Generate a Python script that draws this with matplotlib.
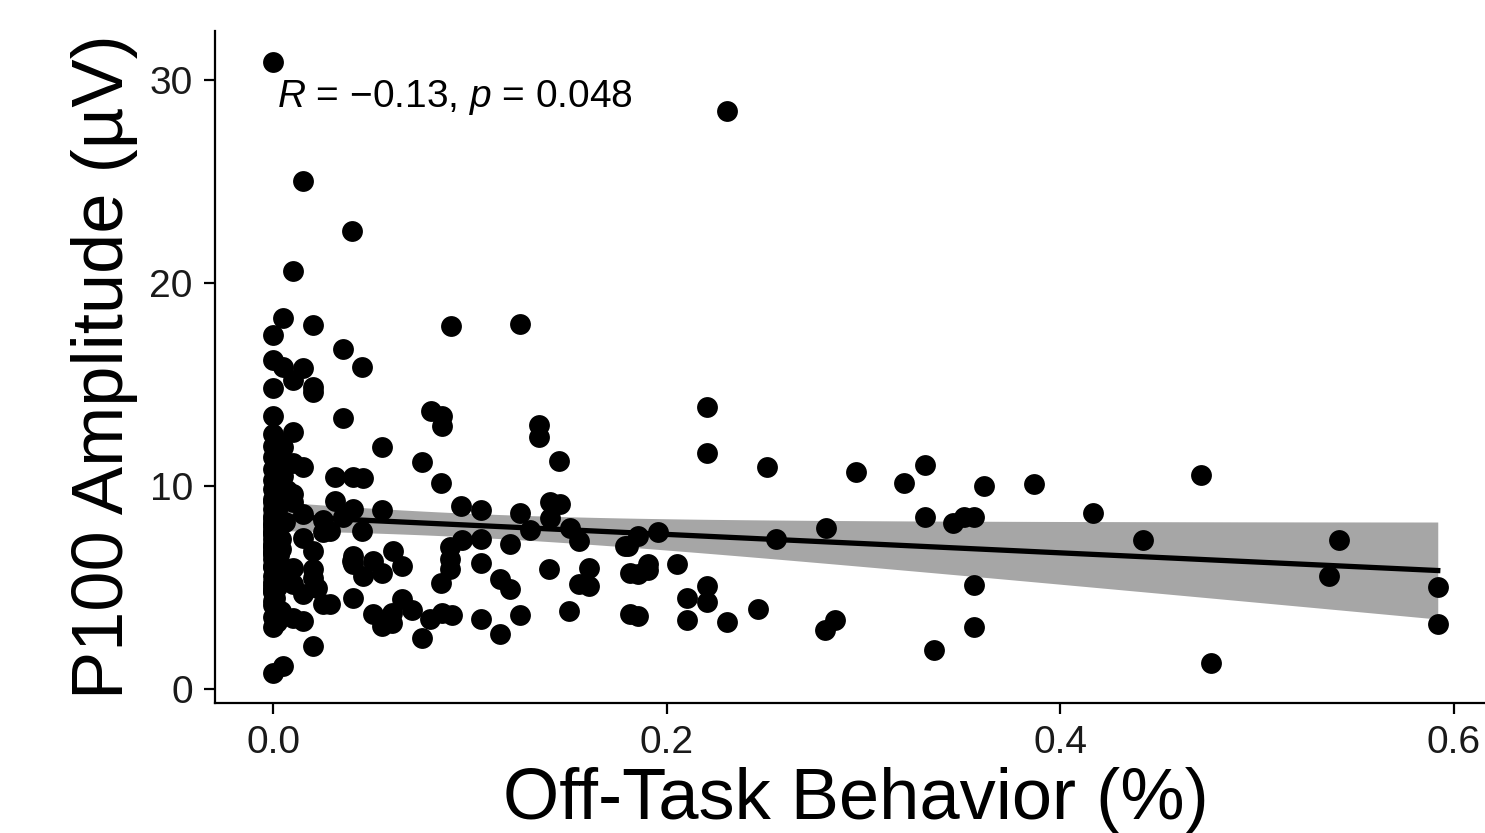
import numpy as np
import matplotlib
matplotlib.use('Agg')
import matplotlib.pyplot as plt

plt.rcParams['font.family'] = ['Liberation Sans', 'DejaVu Sans']
plt.rcParams['mathtext.fontset'] = 'custom'
plt.rcParams['mathtext.it'] = 'Liberation Sans:italic'
plt.rcParams['mathtext.rm'] = 'Liberation Sans'

# off-task behaviour (proportion) and P100 amplitude (uV)
off_task = [
    0.0, 0.2308, 0.0153, 0.0402, 0.0102, 0.0905, 0.1256, 0.0051, 0.0203, 0.0,
    0.0356, 0.0452, 0.0, 0.0051, 0.0102, 0.0153, 0.0203, 0.0203, 0.0, 0.0,
    0.0356, 0.0803, 0.0859, 0.0859, 0.1352, 0.1352, 0.0102, 0.0554, 0.1454, 0.0757,
    0.0102, 0.0315, 0.0407, 0.0458, 0.0854, 0.0071, 0.0102, 0.0153, 0.0315, 0.0407,
    0.0554, 0.0956, 0.1057, 0.1256, 0.1408, 0.1459, 0.0356, 0.0452, 0.1307, 0.1408,
    0.1510, 0.1556, 0.1790, 0.0961, 0.0900, 0.0900, 0.0900, 0.0854, 0.1057, 0.1205,
    0.1057, 0.1154, 0.1205, 0.0407, 0.0407, 0.0458, 0.0508, 0.0554, 0.0610, 0.0656,
    0.0407, 0.0508, 0.0554, 0.0605, 0.0605, 0.0656, 0.0707, 0.0798, 0.0859, 0.0910,
    0.0757, 0.1057, 0.1154, 0.1256, 0.1403, 0.1607, 0.1556, 0.1607, 0.1505, 0.1815,
    0.1815, 0.0290, 0.0290, 0.2206, 0.2206, 0.2511, 0.2959, 0.3208, 0.3310, 0.3610,
    0.3864, 0.3310, 0.3457, 0.3508, 0.3559, 0.2811, 0.2557, 0.1957, 0.1856, 0.1805,
    0.1906, 0.1906, 0.1856, 0.2054, 0.3559, 0.3559, 0.2206, 0.2206, 0.2105, 0.2105,
    0.1856, 0.2308, 0.2461, 0.2857, 0.2806, 0.3360, 0.4164, 0.4713, 0.4418, 0.5414,
    0.5364, 0.5918, 0.5918, 0.4764, 0.0254, 0.0254, 0.0153, 0.0203, 0.0102, 0.0203,
    0.0203, 0.0102, 0.0153, 0.0224, 0.0254, 0.0102, 0.0153, 0.0203, 0.0, 0.0051,
    0.0402, 0.0051, 0.0051, 0.0102, 0.0153, 0.0061,
    # dense column at zero
    0.0, 0.002, 0.0, 0.003, 0.0, 0.001, 0.0, 0.002, 0.0, 0.004,
    0.0, 0.001, 0.0, 0.003, 0.0, 0.002, 0.0, 0.0, 0.001, 0.0,
    0.004, 0.0, 0.002, 0.0, 0.001, 0.0, 0.003, 0.0, 0.0, 0.002,
    0.0, 0.001, 0.0, 0.004, 0.0, 0.002, 0.0, 0.0, 0.003, 0.0,
    0.0, 0.001, 0.003, 0.0, 0.002, 0.0, 0.004, 0.0, 0.001, 0.0,
    0.002, 0.0, 0.003, 0.0, 0.0, 0.001, 0.0, 0.002, 0.0, 0.004,
    0.0, 0.003, 0.0, 0.001, 0.0, 0.002, 0.0, 0.0,
]
p100 = [
    30.88, 28.46, 25.01, 22.55, 20.57, 17.85, 17.96, 18.25, 17.91, 17.41,
    16.72, 15.84, 16.18, 15.84, 15.19, 15.79, 14.85, 14.60, 14.80, 13.42,
    13.32, 13.67, 13.42, 12.93, 12.97, 12.38, 12.63, 11.89, 11.20, 11.15,
    11.10, 10.41, 10.41, 10.36, 10.16, 9.77, 9.18, 8.63, 9.27, 8.88,
    8.83, 8.98, 8.83, 8.68, 9.18, 9.08, 8.44, 7.79, 7.84, 8.39,
    7.94, 7.30, 7.01, 7.35, 6.96, 6.41, 5.92, 5.23, 7.40, 7.15,
    6.22, 5.43, 4.93, 6.56, 6.17, 5.57, 6.31, 5.72, 6.81, 6.07,
    4.49, 3.70, 3.11, 3.26, 3.75, 4.44, 3.90, 3.45, 3.75, 3.65,
    2.52, 3.45, 2.71, 3.65, 5.92, 5.97, 5.18, 5.08, 3.85, 3.70,
    5.72, 7.79, 4.19, 13.86, 11.59, 10.90, 10.66, 10.16, 11.00, 9.97,
    10.11, 8.44, 8.19, 8.44, 8.44, 7.94, 7.40, 7.70, 7.55, 7.05,
    6.17, 5.87, 5.67, 6.17, 5.13, 3.06, 5.08, 4.29, 4.49, 3.40,
    3.60, 3.31, 3.95, 3.40, 2.91, 1.92, 8.68, 10.51, 7.35, 7.35,
    5.57, 5.03, 3.21, 1.28, 8.29, 7.70, 7.45, 6.81, 5.97, 5.92,
    5.48, 5.18, 4.69, 4.98, 4.19, 3.50, 3.35, 2.12, 0.79, 1.13,
    6.31, 11.90, 10.50, 9.60, 10.90, 8.20,
    # dense column at zero
    12.55, 12.20, 11.95, 11.70, 11.40, 11.05, 10.85, 10.60, 10.30, 10.05,
    9.85, 9.55, 9.35, 9.05, 8.85, 8.60, 8.35, 8.10, 7.90, 7.65,
    7.40, 7.15, 6.90, 6.65, 6.35, 6.05, 5.80, 5.55, 5.25, 5.00,
    4.75, 4.45, 4.15, 3.85, 3.55, 3.30, 3.05, 4.95, 9.65, 7.05,
    6.80, 7.20, 5.60, 8.10, 6.30, 7.70, 5.90, 8.50, 6.10, 7.00,
    5.30, 7.90, 6.60, 4.80, 7.40, 8.80, 6.00, 5.50, 7.60, 6.90,
    4.30, 8.30, 6.40, 7.10, 5.10, 3.60, 9.20, 6.70,
]

x = np.array(off_task)
y = np.array(p100)

# linear fit with 95% confidence band (like geom_smooth(method = "lm"))
n = len(x)
slope, intercept = np.polyfit(x, y, 1)
resid = y - (intercept + slope * x)
s = np.sqrt(np.sum(resid ** 2) / (n - 2))
xs = np.linspace(x.min(), x.max(), 100)
ys = intercept + slope * xs
se = s * np.sqrt(1.0 / n + (xs - x.mean()) ** 2 / np.sum((x - x.mean()) ** 2))
tval = 1.97

fig = plt.figure(figsize=(14.85, 8.33), dpi=100)
ax = fig.add_axes([215 / 1485, 130 / 833, 1281 / 1485, 672 / 833])

ax.fill_between(xs, ys - tval * se, ys + tval * se, color='#a6a6a6', lw=0, zorder=1)
ax.scatter(x, y, s=225, color='black', lw=0, zorder=2)
ax.plot(xs, ys, color='black', lw=3.8, zorder=3)

ax.text(0.002, 28.66, '$R$ = \u22120.13, $p$ = 0.048', fontsize=28, va='baseline', ha='left')

ax.set_xlim(-0.0296, 0.6214)
ax.set_ylim(-0.7, 32.4)
ax.set_xticks([0.0, 0.2, 0.4, 0.6])
ax.set_xticklabels(['0.0', '0.2', '0.4', '0.6'])
ax.set_yticks([0, 10, 20, 30])

for side in ['top', 'right']:
    ax.spines[side].set_visible(False)
for side in ['left', 'bottom']:
    ax.spines[side].set_linewidth(1.6)
ax.tick_params(length=8, width=1.6, labelsize=28, colors='black', labelcolor='#1a1a1a', pad=8)

ax.set_xlabel('Off-Task Behavior (%)', fontsize=52, labelpad=4)
ax.set_ylabel('P100 Amplitude (\u00b5V)', fontsize=52, labelpad=8)

fig.savefig('out.png', dpi=100)
